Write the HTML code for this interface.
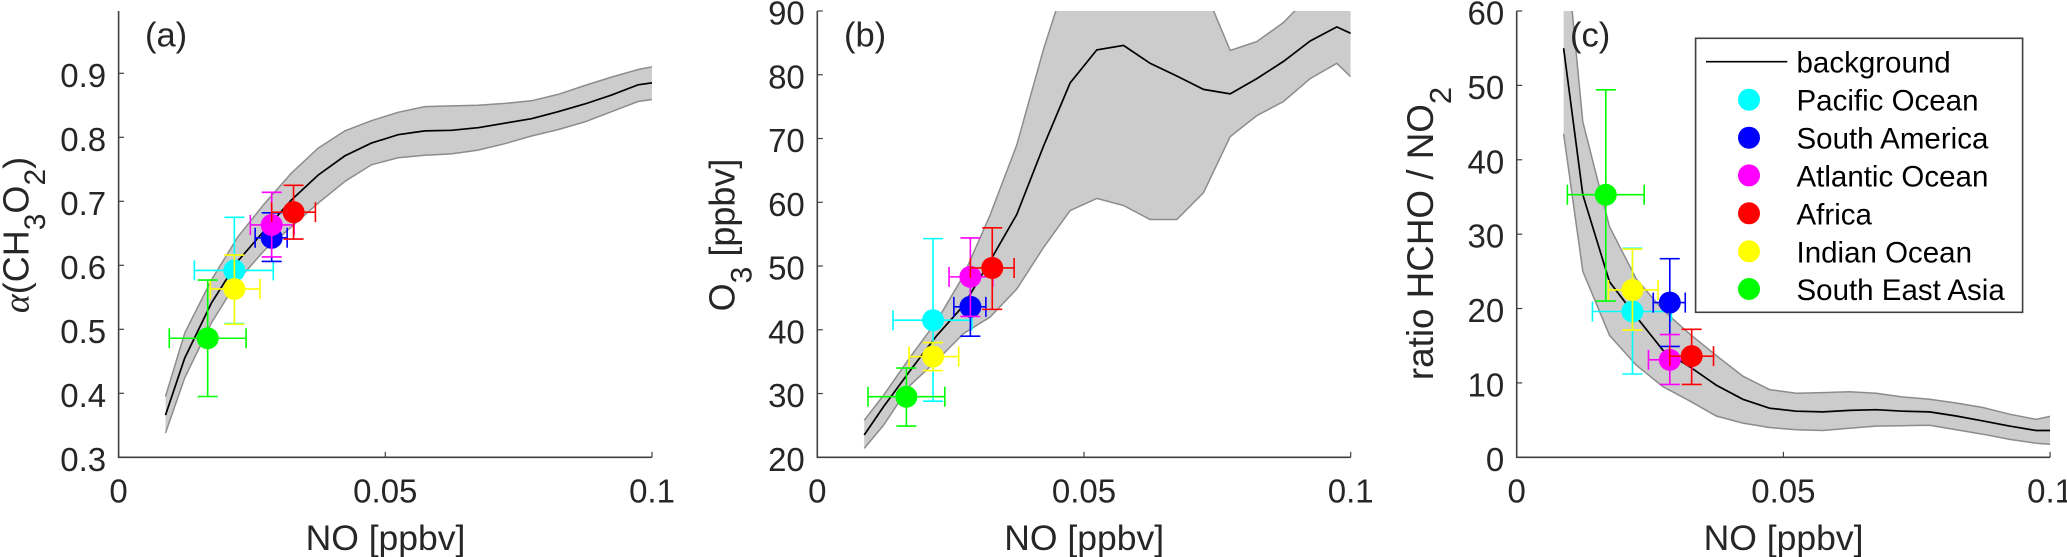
<!DOCTYPE html>
<html>
<head>
<meta charset="utf-8">
<title>NO dependence charts</title>
<style>
html,body{margin:0;padding:0;background:#fff;}
body{width:2067px;height:557px;overflow:hidden;}
svg{display:block;}
text{font-family:"Liberation Sans",Arial,sans-serif;fill:#262626;}
</style>
</head>
<body>
<svg id="fig" xmlns="http://www.w3.org/2000/svg" width="2067" height="557" viewBox="0 0 2067 557">
  <defs>
    <clipPath id="clip-a"><rect x="118.6" y="11" width="533.4" height="447"/></clipPath>
    <clipPath id="clip-b"><rect x="817.3" y="11" width="533.4" height="447"/></clipPath>
    <clipPath id="clip-c"><rect x="1516.7" y="11" width="533.4" height="447"/></clipPath>
  </defs>
  <g id="panel-a"></g>
  <g id="panel-b"></g>
  <g id="panel-c"></g>

  <text x="145" y="46.5" font-size="34.5">(a)</text>
  <text x="844" y="46.5" font-size="34.5">(b)</text>
  <text x="1570" y="46.5" font-size="34.5">(c)</text>

  <text x="385.5" y="550" font-size="35.5" text-anchor="middle">NO [ppbv]</text>
  <text x="1084.2" y="550" font-size="35.5" text-anchor="middle">NO [ppbv]</text>
  <text x="1783.6" y="550" font-size="35.5" text-anchor="middle">NO [ppbv]</text>

  <text transform="translate(28.5 235) rotate(-90)" font-size="36" text-anchor="middle"><tspan font-family="Liberation Serif" font-style="italic">α</tspan>(CH<tspan font-size="30" dy="16.5">3</tspan><tspan dy="-16.5">O</tspan><tspan font-size="30" dy="16.5">2</tspan><tspan dy="-16.5">)</tspan></text>
  <text transform="translate(734.5 235) rotate(-90)" font-size="36" text-anchor="middle">O<tspan font-size="30" dy="17">3</tspan><tspan dy="-17"> [ppbv]</tspan></text>
  <text transform="translate(1433 233.5) rotate(-90)" font-size="36.8" text-anchor="middle">ratio HCHO / NO<tspan font-size="31" dy="18">2</tspan></text>

  <g id="legend">
    <rect x="1695.6" y="38.3" width="327" height="274" fill="#fff" stroke="#404040" stroke-width="1.6"/>
    <line x1="1706" y1="61.7" x2="1787.3" y2="61.7" stroke="#000" stroke-width="1.6"/>
    <text x="1796.5" y="72.5" font-size="29.5" style="fill:#000">background</text>
    <circle cx="1749" cy="99.7" r="11" fill="#00ffff"/>
    <text x="1796.5" y="110.5" font-size="29.5" style="fill:#000">Pacific Ocean</text>
    <circle cx="1749" cy="137.7" r="11" fill="#0000ff"/>
    <text x="1796.5" y="148.5" font-size="29.5" style="fill:#000">South America</text>
    <circle cx="1749" cy="175.4" r="11" fill="#ff00ff"/>
    <text x="1796.5" y="186.4" font-size="29.5" style="fill:#000">Atlantic Ocean</text>
    <circle cx="1749" cy="213.3" r="11" fill="#ff0000"/>
    <text x="1796.5" y="224.3" font-size="29.5" style="fill:#000">Africa</text>
    <circle cx="1749" cy="251.3" r="11" fill="#ffff00"/>
    <text x="1796.5" y="262.3" font-size="29.5" style="fill:#000">Indian Ocean</text>
    <circle cx="1749" cy="289" r="11" fill="#00ff00"/>
    <text x="1796.5" y="300" font-size="29.5" style="fill:#000">South East Asia</text>
  </g>
</svg>
<script>
// Shared x data
const noGrid = [0.0088,0.0124,0.0174,0.0224,0.0274,0.0324,0.0374,0.0424,0.0474,0.0524,0.0574,0.0624,0.0674,0.0724,0.0774,0.0824,0.0874,0.0924,0.0974,0.1];
const regions = ['pacific-ocean','south-america','atlantic-ocean','africa','indian-ocean','south-east-asia'];
const regionColors = ['#00ffff','#0000ff','#ff00ff','#ff0000','#ffff00','#00ff00'];
const regionNO = [0.0217,0.0287,0.0287,0.0328,0.0217,0.0167];
const regionNOLow = [0.0142,0.0256,0.0247,0.0287,0.0172,0.0095];
const regionNOHigh = [0.0290,0.0316,0.0329,0.0369,0.0265,0.0239];
const xTicks = [0,0.05,0.1];
const xTickLabels = ['0','0.05','0.1'];

// Panel (a): alpha(CH3O2)
const aMean = [0.366,0.455,0.541,0.607,0.655,0.702,0.741,0.771,0.791,0.804,0.810,0.811,0.815,0.822,0.829,0.840,0.852,0.866,0.882,0.885];
const aUpper = [0.395,0.494,0.577,0.645,0.697,0.744,0.783,0.810,0.826,0.839,0.848,0.849,0.850,0.853,0.857,0.867,0.881,0.894,0.906,0.910];
const aLower = [0.338,0.424,0.510,0.577,0.624,0.660,0.697,0.731,0.757,0.768,0.772,0.774,0.780,0.790,0.802,0.812,0.824,0.840,0.856,0.859];
const aPoints = [0.592,0.643,0.663,0.683,0.563,0.486];
const aPointsHigh = [0.675,0.682,0.714,0.725,0.616,0.577];
const aPointsLow = [0.509,0.606,0.613,0.641,0.508,0.395];
const aTicks = [0.3,0.4,0.5,0.6,0.7,0.8,0.9];
const aTickLabels = ['0.3','0.4','0.5','0.6','0.7','0.8','0.9'];

// Panel (b): O3
const bMean = [23.5,27.9,33.6,39.1,43.8,50.8,58.1,68.8,78.7,83.9,84.6,81.8,79.8,77.7,77.0,79.4,82.1,85.3,87.5,86.5];
const bUpper = [25.8,29.7,35.7,41.4,48.5,58.0,69.0,84.0,97.0,102.0,106.0,104.0,100.0,93.8,83.8,85.2,88.2,92.5,95.0,95.0];
const bLower = [21.4,25.0,31.3,35.2,39.4,42.0,46.4,52.9,58.7,60.6,59.5,57.3,57.3,61.5,70.3,73.6,75.8,79.4,81.8,79.7];
const bPoints = [41.5,43.6,48.3,49.7,35.8,29.5];
const bPointsHigh = [54.3,48.2,54.4,56.0,38.0,34.0];
const bPointsLow = [28.8,39.0,42.1,43.2,33.6,24.9];
const bTicks = [20,30,40,50,60,70,80,90];
const bTickLabels = ['20','30','40','50','60','70','80','90'];

// Panel (c): ratio HCHO / NO2
const cMean = [55.0,35.3,23.6,18.9,14.4,12.2,9.7,7.8,6.6,6.2,6.1,6.3,6.4,6.2,6.1,5.55,4.9,4.2,3.6,3.6];
const cUpper = [72.0,45.1,31.0,24.0,19.8,16.6,13.7,10.9,9.1,8.6,8.7,8.8,8.6,8.1,7.8,7.3,6.7,5.8,5.1,5.5];
const cLower = [43.5,25.0,16.4,12.4,9.5,7.6,5.55,4.6,4.0,3.7,3.6,3.9,4.2,4.25,4.3,3.7,3.1,2.4,1.9,1.75];
const cPoints = [19.6,20.8,13.1,13.6,22.5,35.3];
const cPointsHigh = [28.1,26.7,16.5,17.2,28.0,49.4];
const cPointsLow = [11.2,14.9,9.8,9.8,17.1,21.0];
const cTicks = [0,10,20,30,40,50,60];
const cTickLabels = ['0','10','20','30','40','50','60'];

const NS = 'http://www.w3.org/2000/svg';
function make(parent, tag, attrs) {
  const el = document.createElementNS(NS, tag);
  for (const k in attrs) el.setAttribute(k, attrs[k]);
  parent.appendChild(el);
  return el;
}

function drawPanel(cfg) {
  const root = document.getElementById('panel-' + cfg.id);
  const top = 11, bottom = 457.3, width = 533.4;
  const sx = v => cfg.left + v / 0.1 * width;
  const sy = v => bottom - (v - cfg.yMin) / (cfg.yMax - cfg.yMin) * (bottom - cfg.yTop);
  const clip = make(root, 'g', {'clip-path': 'url(#clip-' + cfg.id + ')'});
  
  

  const up = noGrid.map((x, i) => sx(x).toFixed(1) + ',' + sy(cfg.upper[i]).toFixed(1));
  const lo = noGrid.map((x, i) => sx(x).toFixed(1) + ',' + sy(cfg.lower[i]).toFixed(1));
  const band = make(clip, 'polygon', {points: up.concat(lo.slice().reverse()).join(' '), fill: '#cccccc'});
  
  
  const upLine = make(clip, 'polyline', {points: up.join(' '), fill: 'none', stroke: '#8c8c8c', 'stroke-width': 1.5});
  
  
  const loLine = make(clip, 'polyline', {points: lo.join(' '), fill: 'none', stroke: '#8c8c8c', 'stroke-width': 1.5});
  
  
  const meanPts = noGrid.map((x, i) => sx(x).toFixed(1) + ',' + sy(cfg.mean[i]).toFixed(1)).join(' ');
  const meanLine = make(clip, 'polyline', {points: meanPts, fill: 'none', stroke: '#000', 'stroke-width': 1.7});
  
  

  regions.forEach((r, i) => {
    const g = make(root, 'g', {stroke: regionColors[i], 'stroke-width': 1.6, fill: 'none'});
    
    
    const cx = sx(regionNO[i]), cy = sy(cfg.points[i]);
    const x0 = sx(regionNOLow[i]), x1 = sx(regionNOHigh[i]);
    const y0 = sy(cfg.pointsLow[i]), y1 = sy(cfg.pointsHigh[i]);
    const d = 'M' + cx + ' ' + y0 + 'V' + y1 +
      'M' + (cx - 10) + ' ' + y0 + 'H' + (cx + 10) +
      'M' + (cx - 10) + ' ' + y1 + 'H' + (cx + 10) +
      'M' + x0 + ' ' + cy + 'H' + x1 +
      'M' + x0 + ' ' + (cy - 10) + 'V' + (cy + 10) +
      'M' + x1 + ' ' + (cy - 10) + 'V' + (cy + 10);
    make(g, 'circle', {cx: cx, cy: cy, r: 11, fill: regionColors[i], stroke: 'none'});
    make(g, 'path', {d: d});
  });

  const axis = make(root, 'path', {
    d: 'M' + cfg.left + ' ' + top + 'V' + bottom + 'H' + (cfg.left + width),
    fill: 'none', stroke: '#404040', 'stroke-width': 1.6
  });
  
  

  cfg.ticks.forEach((t, i) => {
    const y = sy(t);
    const tick = make(root, 'line', {x1: cfg.left, x2: cfg.left + 5.5, y1: y, y2: y, stroke: '#404040', 'stroke-width': 1.2});
    
    
    const label = make(root, 'text', {x: cfg.left - 12.5, y: y + 13.5, 'font-size': 33, 'text-anchor': 'end'});
    label.textContent = cfg.tickLabels[i];
    
    
  });
  xTicks.forEach((t, i) => {
    const x = sx(t);
    const tick = make(root, 'line', {x1: x, x2: x, y1: bottom, y2: bottom - 5.5, stroke: '#404040', 'stroke-width': 1.2});
    
    
    const label = make(root, 'text', {x: x, y: 502.3, 'font-size': 33, 'text-anchor': 'middle'});
    label.textContent = xTickLabels[i];
    
    
  });
}

drawPanel({id:'a', left:118.6, yMin:0.3, yMax:0.9, yTop:73.3, mean:aMean, upper:aUpper, lower:aLower, points:aPoints, pointsHigh:aPointsHigh, pointsLow:aPointsLow, ticks:aTicks, tickLabels:aTickLabels});
drawPanel({id:'b', left:817.3, yMin:20, yMax:90, yTop:11, mean:bMean, upper:bUpper, lower:bLower, points:bPoints, pointsHigh:bPointsHigh, pointsLow:bPointsLow, ticks:bTicks, tickLabels:bTickLabels});
drawPanel({id:'c', left:1516.7, yMin:0, yMax:60, yTop:11, mean:cMean, upper:cUpper, lower:cLower, points:cPoints, pointsHigh:cPointsHigh, pointsLow:cPointsLow, ticks:cTicks, tickLabels:cTickLabels});
</script>
</body>
</html>
